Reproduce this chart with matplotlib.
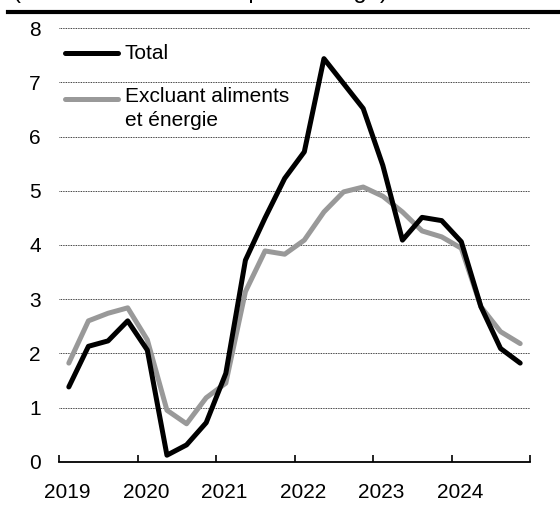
import numpy as np
import matplotlib
matplotlib.use("Agg")
import matplotlib.pyplot as plt
from matplotlib.lines import Line2D

plt.rcParams["font.family"] = ["Liberation Sans", "DejaVu Sans"]

# Donnees trimestrielles (taux de variation, %)
years = [2019, 2020, 2021, 2022, 2023, 2024]
quarters = [1, 2, 3, 4]
total = [1.38, 2.13, 2.23, 2.60,
         2.06, 0.12, 0.31, 0.72,
         1.63, 3.72, 4.50, 5.23,
         5.72, 7.44, 6.98, 6.52,
         5.47, 4.09, 4.51, 4.45,
         4.06, 2.86, 2.09, 1.82]
hors_alim = [1.82, 2.60, 2.74, 2.84,
             2.25, 0.95, 0.70, 1.18,
             1.45, 3.14, 3.89, 3.83,
             4.09, 4.61, 4.98, 5.07,
             4.90, 4.61, 4.26, 4.15,
             3.94, 2.86, 2.40, 2.18]
labels = ["Total", "Excluant aliments\net énergie"]
colors = ["black", "#999999"]
yticks = [0, 1, 2, 3, 4, 5, 6, 7, 8]

t = np.array([y + (q - 0.5) / 4 for y in years for q in quarters])

fig = plt.figure(figsize=(5.6, 5.08), dpi=100)
ax = fig.add_axes([59 / 560, 1 - 461.7 / 508, 471 / 560, 433.4 / 508])

for v in yticks[1:]:
    ax.axhline(v, color="black", lw=0.6, ls=(0, (1, 1)), zorder=1)

ax.plot(t, hors_alim, color=colors[1], lw=3.6, solid_capstyle="round", zorder=3)
ax.plot(t, total, color=colors[0], lw=3.6, solid_capstyle="round", zorder=4)

ax.set_xlim(years[0], years[-1] + 1)
ax.set_ylim(0, 8)
for s in ["top", "right", "left"]:
    ax.spines[s].set_visible(False)
ax.spines["bottom"].set_linewidth(1.3)

ax.set_xticks(years + [years[-1] + 1])
ax.set_xticklabels([])
ax.tick_params(axis="x", which="major", direction="in", length=5, width=1.2)
ax.set_xticks([y + 0.11 for y in years], minor=True)
ax.set_xticklabels([str(y) for y in years], minor=True)
ax.tick_params(axis="x", which="minor", length=0, pad=15, labelsize=15)
ax.set_yticks(yticks)
ax.tick_params(axis="y", length=0, pad=13, labelsize=15)

# legende
ax.add_line(Line2D([0.013, 0.125], [0.943, 0.943], transform=ax.transAxes,
                   color=colors[0], lw=3.6, solid_capstyle="round"))
ax.add_line(Line2D([0.013, 0.125], [0.837, 0.837], transform=ax.transAxes,
                   color=colors[1], lw=3.6, solid_capstyle="round"))
ax.text(0.14, 0.943, labels[0], transform=ax.transAxes, fontsize=15, va="center")
ax.text(0.14, 0.837 + 0.027, labels[1], transform=ax.transAxes, fontsize=15,
        va="top", linespacing=1.3)

# titre coupe et filet du haut
fig.text(13 / 560, 1 + 2 / 508, "(Variation annuelle en pourcentage)",
         fontsize=17, va="baseline", ha="left")
fig.add_artist(Line2D([8 / 560, 1], [1 - 12 / 508, 1 - 12 / 508],
                      transform=fig.transFigure, color="black", lw=3))

fig.savefig("out.png", dpi=100)
